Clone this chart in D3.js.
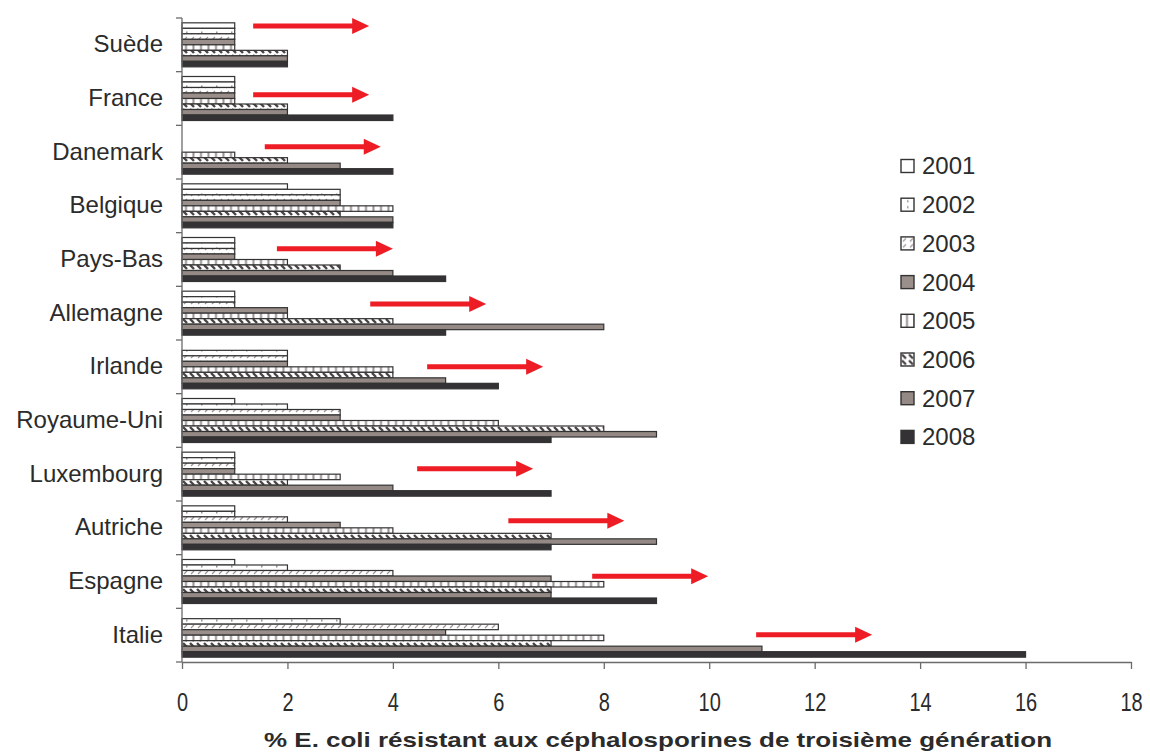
<!DOCTYPE html>
<html>
<head>
<meta charset="utf-8">
<script src="https://cdn.jsdelivr.net/npm/d3@7"></script>
<style>
  body { margin: 0; background: #fff; }
  svg { font-family: "Liberation Sans", Arial, sans-serif; }
</style>
</head>
<body>
<svg id="chart" width="1150" height="753"></svg>
<script>
// data
var countries = ["Suède", "France", "Danemark", "Belgique", "Pays-Bas", "Allemagne",
  "Irlande", "Royaume-Uni", "Luxembourg", "Autriche", "Espagne", "Italie"];
var years = ["2001", "2002", "2003", "2004", "2005", "2006", "2007", "2008"];
// one array per country, 2001..2008 (null = no bar)
var suede      = [1, 1, 1, 1, 1, 2, 2, 2];
var france     = [1, 1, 1, 1, 1, 2, 2, 4];
var danemark   = [null, null, null, null, 1, 2, 3, 4];
var belgique   = [2, 3, 3, 3, 4, 3, 4, 4];
var paysBas    = [1, 1, 1, 1, 2, 3, 4, 5];
var allemagne  = [1, 1, 1, 2, 2, 4, 8, 5];
var irlande    = [null, 2, 2, 2, 4, 4, 5, 6];
var royaumeUni = [1, 2, 3, 3, 6, 8, 9, 7];
var luxembourg = [1, 1, 1, 1, 3, 2, 4, 7];
var autriche   = [1, 1, 2, 3, 4, 7, 9, 7];
var espagne    = [1, 2, 4, 7, 8, 7, 7, 9];
var italie     = [null, 3, 6, 5, 8, 7, 11, 16];
var xTicks = [0, 2, 4, 6, 8, 10, 12, 14, 16, 18];

// red trend arrows: country, start value, vertical position inside the group
var arrowCountries = ["Suède", "France", "Danemark", "Pays-Bas", "Allemagne", "Irlande",
  "Luxembourg", "Autriche", "Espagne", "Italie"];
var arrowStart = [1.35, 1.35, 1.57, 1.8, 3.57, 4.65, 4.46, 6.19, 7.78, 10.89];
var arrowPos = [0.15, 0.43, 0.4, 0.3, 0.33, 0.5, 0.4, 0.37, 0.4, 0.49];
var arrowLen = 2.2;

var values = [suede, france, danemark, belgique, paysBas, allemagne, irlande,
  royaumeUni, luxembourg, autriche, espagne, italie];

var svg = d3.select("#chart");
var plotLeft = 182, plotRight = 1131, plotTop = 18, plotBottom = 662;

var x = d3.scaleLinear().domain([0, 18]).range([plotLeft, plotRight]);
var y = d3.scaleBand().domain(countries).range([plotTop, plotBottom])
    .paddingInner(0.18).paddingOuter(0.09);
var yy = d3.scaleBand().domain(years).range([0, y.bandwidth()]);

// patterns
var defs = svg.append("defs");
var p;
p = defs.append("pattern").attr("id", "p2002").attr("patternUnits", "userSpaceOnUse")
  .attr("width", 15).attr("height", 6);
p.append("rect").attr("width", 15).attr("height", 6).attr("fill", "#fff");
p.append("rect").attr("x", 6).attr("y", 1.5).attr("width", 1.5).attr("height", 2).attr("fill", "#9a9090");

p = defs.append("pattern").attr("id", "p2003").attr("patternUnits", "userSpaceOnUse")
  .attr("width", 7).attr("height", 6);
p.append("rect").attr("width", 7).attr("height", 6).attr("fill", "#fff");
p.append("path").attr("d", "M2,4 L5,1").attr("stroke", "#a09696").attr("stroke-width", 1.2);

p = defs.append("pattern").attr("id", "p2005").attr("patternUnits", "userSpaceOnUse")
  .attr("width", 7.5).attr("height", 6);
p.append("rect").attr("width", 7.5).attr("height", 6).attr("fill", "#fff");
p.append("rect").attr("x", 5).attr("width", 2).attr("height", 6).attr("fill", "#9a9090");

p = defs.append("pattern").attr("id", "p2006").attr("patternUnits", "userSpaceOnUse")
  .attr("width", 7).attr("height", 6);
p.append("rect").attr("width", 7).attr("height", 6).attr("fill", "#fff");
p.append("path").attr("d", "M1,1 L5,5").attr("stroke", "#4a4444").attr("stroke-width", 2.4);

var fills = {
  "2001": "#ffffff",
  "2002": "url(#p2002)",
  "2003": "url(#p2003)",
  "2004": "#9b8f8b",
  "2005": "url(#p2005)",
  "2006": "url(#p2006)",
  "2007": "#948985",
  "2008": "#343235"
};

// bars
var rows = [];
countries.forEach(function(c, i) {
  years.forEach(function(yr, j) {
    if (values[i][j] != null) rows.push({country: c, year: yr, value: values[i][j]});
  });
});

svg.append("g").selectAll("rect")
  .data(rows)
  .enter().append("rect")
    .attr("x", x(0))
    .attr("y", function(d) { return y(d.country) + yy(d.year); })
    .attr("width", function(d) { return x(d.value) - x(0); })
    .attr("height", yy.bandwidth())
    .attr("fill", function(d) { return fills[d.year]; })
    .attr("stroke", "#333")
    .attr("stroke-width", 1.2);

// y axis: line + ticks between groups
var axisColor = "#6b6b6b";
svg.append("line")
  .attr("x1", plotLeft).attr("x2", plotLeft).attr("y1", plotTop).attr("y2", plotBottom)
  .attr("stroke", axisColor).attr("stroke-width", 1.3);
var step = y.step();
var bounds = countries.map(function(c) { return y(c) - step * y.paddingInner() / 2; });
bounds.push(plotBottom);
svg.append("g").selectAll("line")
  .data(bounds)
  .enter().append("line")
    .attr("x1", plotLeft - 6).attr("x2", plotLeft)
    .attr("y1", function(d) { return d; }).attr("y2", function(d) { return d; })
    .attr("stroke", axisColor).attr("stroke-width", 1.3);

svg.append("g").selectAll("text")
  .data(countries)
  .enter().append("text")
    .attr("x", 163)
    .attr("y", function(d) { return y(d) - step * y.paddingInner() / 2 + step / 2 - 1; })
    .attr("dy", "0.35em")
    .attr("text-anchor", "end")
    .attr("font-size", 24)
    .attr("fill", "#2b2b2b")
    .text(function(d) { return d; });

// x axis
var xAxis = svg.append("g")
  .attr("transform", "translate(0," + plotBottom + ")")
  .call(d3.axisBottom(x).tickValues(xTicks).tickSize(7).tickPadding(24).tickSizeOuter(0));
xAxis.select(".domain").attr("stroke", axisColor).attr("stroke-width", 1.3);
xAxis.selectAll(".tick line").attr("stroke", axisColor).attr("stroke-width", 1.3);
xAxis.selectAll(".tick text")
  .attr("font-size", 25)
  .attr("transform", "scale(0.8,1)")
  .attr("font-family", "'Liberation Sans', Arial, sans-serif")
  .attr("fill", "#2b2b2b");

svg.append("text")
  .attr("x", (264 + 1052) / 2)
  .attr("y", 747)
  .attr("text-anchor", "middle")
  .attr("font-size", 21)
  .attr("font-weight", "bold")
  .attr("fill", "#2b2b2b")
  .attr("textLength", 788)
  .attr("lengthAdjust", "spacingAndGlyphs")
  .text("% E. coli résistant aux céphalosporines de troisième génération");

// legend
var legend = svg.append("g").selectAll("g")
  .data(years)
  .enter().append("g")
    .attr("transform", function(d, i) { return "translate(901," + (166 + i * 38.7) + ")"; });
legend.append("rect")
  .attr("x", 0).attr("y", -6.5).attr("width", 13).attr("height", 13)
  .attr("fill", function(d) { return fills[d]; })
  .attr("stroke", "#333").attr("stroke-width", 1.4);
legend.append("text")
  .attr("x", 21).attr("dy", "0.35em")
  .attr("font-size", 24)
  .attr("fill", "#2b2b2b")
  .text(function(d) { return d; });

// arrows
var arrows = arrowCountries.map(function(c, i) {
  return {y: y(c) - step * y.paddingInner() / 2 + arrowPos[i] * step,
          x0: x(arrowStart[i]), x1: x(arrowStart[i] + arrowLen)};
});
svg.append("g").selectAll("path")
  .data(arrows)
  .enter().append("path")
    .attr("d", function(d) {
      var hl = 17, sh = 2.5, hh = 8;
      return "M" + d.x0 + "," + (d.y - sh) +
        "L" + (d.x1 - hl) + "," + (d.y - sh) +
        "L" + (d.x1 - hl) + "," + (d.y - hh) +
        "L" + d.x1 + "," + d.y +
        "L" + (d.x1 - hl) + "," + (d.y + hh) +
        "L" + (d.x1 - hl) + "," + (d.y + sh) +
        "L" + d.x0 + "," + (d.y + sh) + "Z";
    })
    .attr("fill", "#ee1d25");
</script>
</body>
</html>
